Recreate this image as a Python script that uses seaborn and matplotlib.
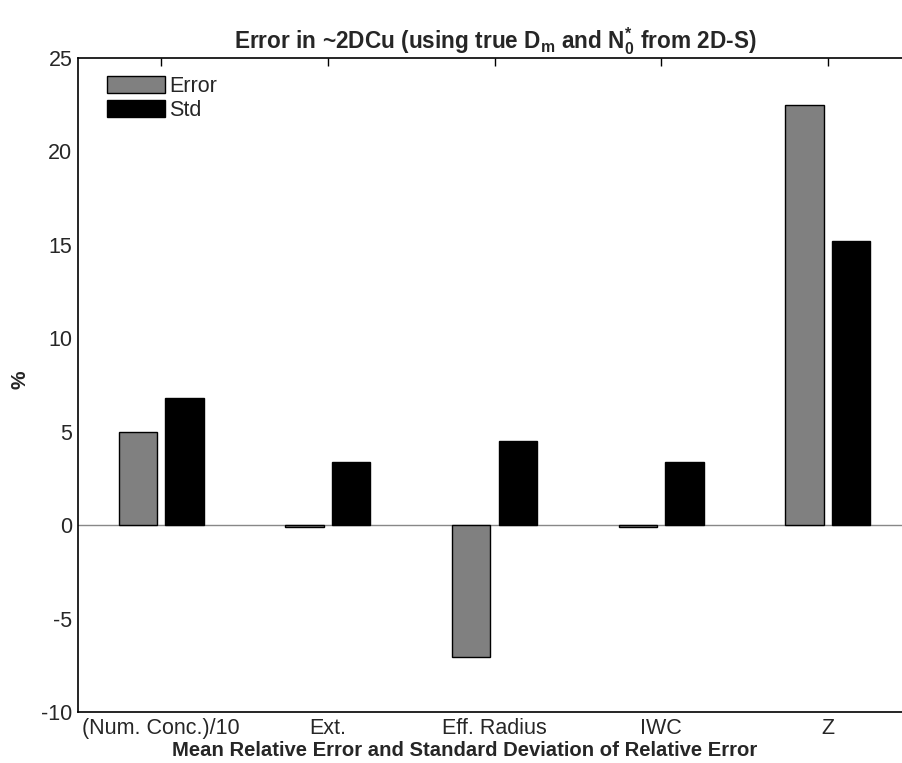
import matplotlib
matplotlib.use("Agg")
import matplotlib.pyplot as plt
import seaborn as sns
import pandas as pd
from matplotlib.patches import Patch

categories = ["(Num. Conc.)/10", "Ext.", "Eff. Radius", "IWC", "Z"]
error_vals = [5.0, -0.1, -7.05, -0.1, 22.5]
std_vals = [6.8, 3.4, 4.5, 3.4, 15.2]
series = ["Error", "Std"]
yticks = [-10, -5, 0, 5, 10, 15, 20, 25]

df = pd.DataFrame({
    "cat": categories * 2,
    "val": error_vals + std_vals,
    "series": [series[0]] * len(categories) + [series[1]] * len(categories),
})

sns.set_style("white")
fam = ["Liberation Sans", "DejaVu Sans"]
plt.rcParams["font.family"] = fam
plt.rcParams["mathtext.fontset"] = "custom"
plt.rcParams["mathtext.rm"] = "Liberation Sans:bold"
plt.rcParams["mathtext.bf"] = "Liberation Sans:bold"

fig = plt.figure(figsize=(9.02, 7.63), dpi=100)
ax = fig.add_axes([78 / 902, 1 - 712 / 763, (911 - 78) / 902, (712 - 58) / 763])

colors = {"Error": "#808080", "Std": "#000000"}
sns.barplot(data=df, x="cat", y="val", hue="series", order=categories,
            hue_order=series, palette=colors, width=0.56, gap=0.18,
            edgecolor="black", linewidth=1.0, saturation=1, ax=ax, legend=False)

ax.axhline(0, color="#888888", lw=1.0, zorder=0.5)
ax.set_xlim(-0.5, 4.5)
ax.set_ylim(-10, 25)
ax.set_yticks(yticks)
ax.set_yticklabels([str(t) for t in yticks])
ax.tick_params(axis="both", direction="in", length=6, width=1, labelsize=15.5,
               top=True, right=True, color="black")
ax.tick_params(axis="x", pad=4)
ax.tick_params(axis="y", pad=4)
for s in ax.spines.values():
    s.set_visible(True)
    s.set_color("black")
    s.set_linewidth(1.2)

ax.set_xlabel("Mean Relative Error and Standard Deviation of Relative Error",
              fontsize=14.6, fontweight="bold")
ax.xaxis.set_label_coords((464.5 - 78) / 833, -(750 - 712) / 654)
ax.xaxis.label.set_va("center")
ax.set_ylabel("%", fontsize=15, fontweight="bold")
ax.yaxis.set_label_coords(-(78 - 20) / 833, 1 - (380 - 58) / 654)
ax.yaxis.label.set_va("center")
ax.set_title(r"Error in ~2DCu (using true D$_\mathregular{m}$ and N$_\mathregular{0}^\mathregular{*}$ from 2D-S)",
             fontsize=16.3, fontweight="bold", pad=7, x=(495 - 78) / (911 - 78))

handles = [Patch(facecolor=colors[s], edgecolor="black", lw=1.0) for s in series]
ax.legend(handles, series, loc="upper left", bbox_to_anchor=(29 / 833, 1 - 18 / 654),
          frameon=False, fontsize=15.5, handlelength=2.7, handleheight=0.85,
          handletextpad=0.2, labelspacing=0.12, borderpad=0, borderaxespad=0)

fig.savefig("out.png", dpi=100)
